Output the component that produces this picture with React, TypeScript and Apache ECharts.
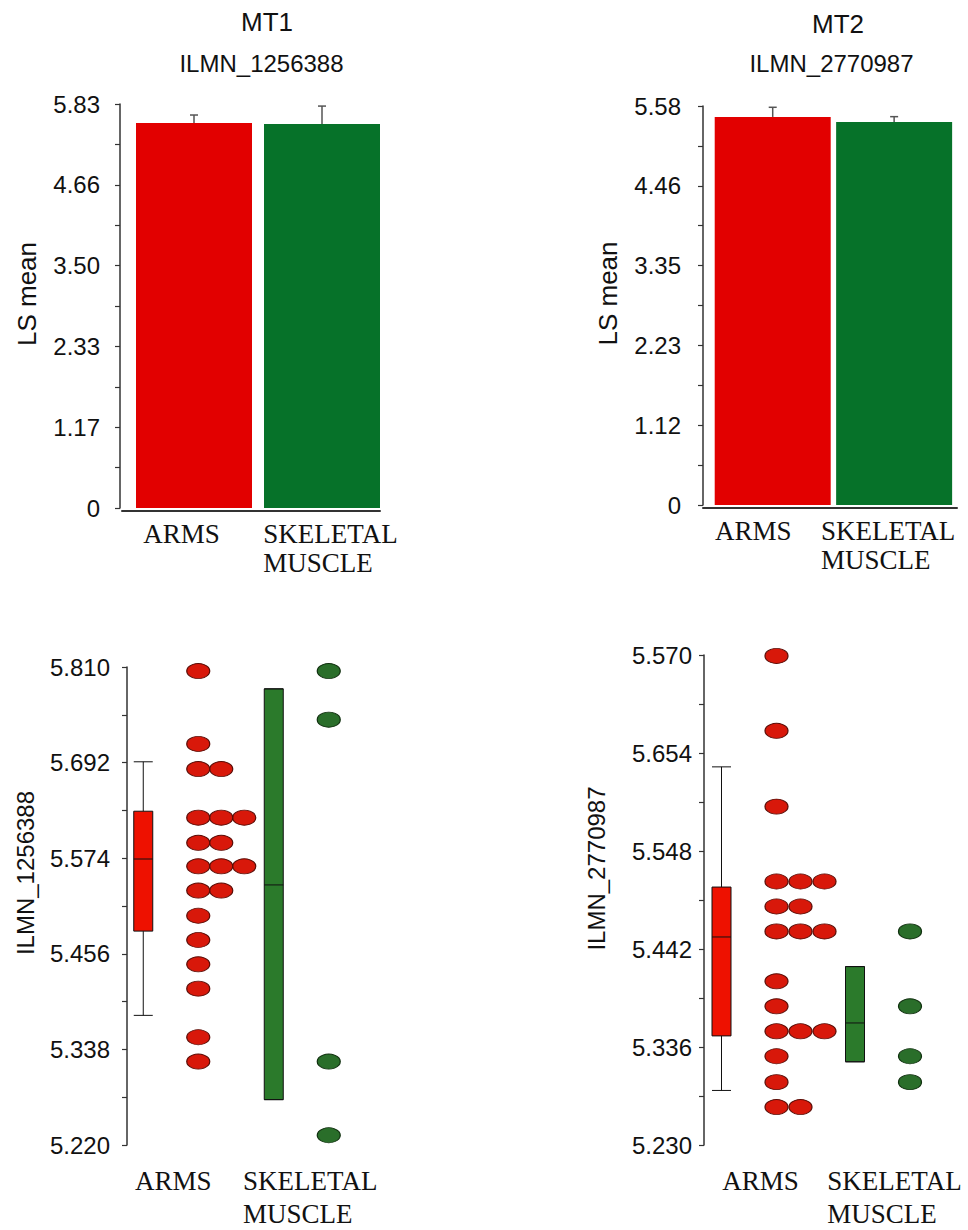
import React, { useEffect, useRef } from 'react';
import * as echarts from 'echarts';

// ---------- data ----------
const categories = ['ARMS', 'SKELETAL\nMUSCLE'];

// Top panels: LS means and upper error bars
const mt1Means = [5.556, 5.541];
const mt1Errors = [0.115, 0.259];
const mt2Means = [5.427, 5.357];
const mt2Errors = [0.135, 0.074];

const mt1BarTicks = ['0', '1.17', '2.33', '3.50', '4.66', '5.83'];
const mt2BarTicks = ['0', '1.12', '2.23', '3.35', '4.46', '5.58'];
const mt1BarRange = [0, 5.83];
const mt2BarRange = [0, 5.58];

// Bottom panels: box plots [low, Q1, median, Q3, high]
const mt1Boxes = [
  [5.38, 5.484, 5.573, 5.632, 5.693],
  [5.276, 5.276, 5.541, 5.783, 5.783],
];
const mt2Boxes = [
  [5.289, 5.348, 5.455, 5.509, 5.639],
  [5.32, 5.32, 5.362, 5.423, 5.423],
];

// Individual samples (dot plots)
const mt1ArmsSamples = [
  5.805, 5.715, 5.684, 5.684, 5.624, 5.624, 5.624, 5.593, 5.593, 5.564,
  5.564, 5.564, 5.534, 5.534, 5.503, 5.473, 5.443, 5.413, 5.353, 5.323,
];
const mt1MuscleSamples = [5.805, 5.745, 5.323, 5.232];
const mt2ArmsSamples = [
  5.759, 5.678, 5.596, 5.515, 5.515, 5.515, 5.488, 5.488, 5.461, 5.461,
  5.461, 5.407, 5.38, 5.353, 5.353, 5.353, 5.326, 5.298, 5.271, 5.271,
];
const mt2MuscleSamples = [5.461, 5.38, 5.326, 5.298];

const mt1DotTicks = ['5.220', '5.338', '5.456', '5.574', '5.692', '5.810'];
const mt2DotTicks = ['5.230', '5.336', '5.442', '5.548', '5.654', '5.570'];
const mt1DotRange = [5.22, 5.81];
const mt2DotRange = [5.23, 5.76];

// ---------- styles ----------
const SANS = '"Liberation Sans", Arial, Helvetica, sans-serif';
const SERIF = '"Liberation Serif", "Times New Roman", Times, serif';
const INK = '#111111';
const AXIS = '#333333';
const barColors = ['#e20000', '#067229'];
const boxColors = ['#ee1100', '#2b7a2b'];
const dotColors = ['#d8180a', '#2a6e2a'];
const dotBorders = ['#5a0c06', '#10300f'];

function tickValues(range: number[], steps: number, sub: number) {
  const out: number[] = [];
  const n = steps * sub;
  for (let i = 0; i <= n; i++) {
    out.push(+(range[0] + ((range[1] - range[0]) * i) / n).toFixed(6));
  }
  return out;
}

function valueAxis(
  grid: number,
  range: number[],
  labels: string[],
  offset: number,
  margin: number,
  name: string,
  nameSize: number,
  nameGap: number,
  nameShift: number
) {
  const step = (range[1] - range[0]) / (labels.length - 1);
  return {
    type: 'value',
    gridIndex: grid,
    min: range[0],
    max: range[1],
    offset,
    axisLine: { show: true, onZero: false, lineStyle: { color: AXIS, width: 1.5 } },
    axisTick: {
      show: true,
      length: 5,
      lineStyle: { color: AXIS, width: 1.2 },
      customValues: tickValues(range, labels.length - 1, 2),
    },
    minorTick: { show: false },
    splitLine: { show: false },
    axisLabel: {
      customValues: tickValues(range, labels.length - 1, 1),
      margin,
      fontSize: 24,
      color: INK,
      fontFamily: SANS,
      formatter: (v: number) => labels[Math.round((v - range[0]) / step)] ?? '',
    },
    name,
    nameLocation: 'middle',
    nameGap,
    nameRotate: 90,
    nameTextStyle: {
      fontSize: nameSize,
      color: INK,
      fontFamily: SANS,
      padding: nameShift >= 0 ? [0, 0, 0, nameShift * 2] : [0, -nameShift * 2, 0, 0],
    },
  };
}

function categoryAxis(grid: number, shifts: number[], margin: number, lineHeight: number) {
  const rich: Record<string, any> = {};
  shifts.forEach((dx, i) => {
    rich['c' + i] = {
      align: 'left',
      fontFamily: SERIF,
      fontSize: 27,
      color: INK,
      lineHeight,
      padding: dx >= 0 ? [0, 0, 0, 2 * dx] : [0, -2 * dx, 0, 0],
    };
  });
  return {
    type: 'category',
    gridIndex: grid,
    data: categories,
    axisLine: { show: false },
    axisTick: { show: false },
    splitLine: { show: false },
    axisLabel: {
      interval: 0,
      margin,
      fontFamily: SERIF,
      fontSize: 27,
      color: INK,
      lineHeight,
      formatter: (v: string, i: number) =>
        v
          .split('\n')
          .map((l) => `{c${i}|${l}}`)
          .join('\n'),
      rich,
    },
  };
}

function baselineAxis(grid: number) {
  return {
    type: 'value',
    gridIndex: grid,
    min: 0,
    max: 1,
    axisLine: { show: true, onZero: false, lineStyle: { color: AXIS, width: 2 } },
    axisTick: { show: false },
    axisLabel: { show: false },
    splitLine: { show: false },
  };
}

function hiddenAxis(grid: number) {
  return { type: 'value', gridIndex: grid, show: false, min: 0, max: 1 };
}

function barSeries(axis: number, means: number[]) {
  return {
    type: 'bar',
    xAxisIndex: axis,
    yAxisIndex: axis,
    barWidth: 116,
    z: 2,
    data: means.map((v, i) => ({ value: v, itemStyle: { color: barColors[i] } })),
  };
}

function errorSeries(axis: number, means: number[], errs: number[]) {
  return {
    type: 'custom',
    xAxisIndex: axis,
    yAxisIndex: axis,
    z: 3,
    encode: { x: 0, y: [1, 2] },
    data: means.map((m, i) => [i, m, m + errs[i]]),
    renderItem: (_p: any, api: any) => {
      const base = api.coord([api.value(0), api.value(1)]);
      const top = api.coord([api.value(0), api.value(2)]);
      const half = 4;
      const style = { stroke: '#555555', lineWidth: 1.5 };
      return {
        type: 'group',
        children: [
          { type: 'line', shape: { x1: base[0], y1: base[1], x2: top[0], y2: top[1] }, style },
          { type: 'line', shape: { x1: top[0] - half, y1: top[1], x2: top[0] + half, y2: top[1] }, style },
        ],
      };
    },
  };
}

function boxSeries(axis: number, boxes: number[][]) {
  return {
    type: 'boxplot',
    xAxisIndex: axis,
    yAxisIndex: axis,
    boxWidth: [19, 19],
    z: 2,
    data: boxes.map((b, i) => ({
      value: b,
      itemStyle: { color: boxColors[i], borderColor: '#111111', borderWidth: 1 },
    })),
  };
}

function dotSeries(axis: number, cat: number, samples: number[], spacing: number) {
  const seen = new Map<number, number>();
  return {
    type: 'scatter',
    xAxisIndex: axis,
    yAxisIndex: axis,
    symbol: 'circle',
    symbolSize: [23, 15],
    clip: false,
    z: 3,
    itemStyle: { color: dotColors[cat], borderColor: dotBorders[cat], borderWidth: 1, opacity: 1 },
    data: samples.map((v) => {
      const col = seen.get(v) ?? 0;
      seen.set(v, col + 1);
      return { value: [cat, v], symbolOffset: [55 + col * spacing, 0] };
    }),
  };
}

function titleItem(text: string, left: number, top: number, size: number) {
  return {
    text,
    left,
    top,
    padding: 0,
    textAlign: 'center',
    textStyle: { fontSize: size, fontWeight: 'normal', fontFamily: SANS, color: INK },
  };
}

export default function App() {
  const ref = useRef<HTMLDivElement>(null);

  useEffect(() => {
    if (!ref.current) return;
    const chart = echarts.init(ref.current, null, { renderer: 'svg' });
    const option: any = {
      animation: false,
      backgroundColor: '#ffffff',
      title: [
        titleItem('MT1', 267, 9, 26),
        titleItem('ILMN_1256388', 261.5, 51, 24),
        titleItem('MT2', 838, 11, 26),
        titleItem('ILMN_2770987', 831.5, 51, 24),
      ],
      grid: [
        { left: 130, top: 104, width: 256, height: 404 },
        { left: 122, top: 104, width: 258, height: 407 },
        { left: 712, top: 106, width: 252, height: 399 },
        { left: 703, top: 106, width: 254, height: 402 },
        { left: 78, top: 667, width: 261, height: 483 },
        { left: 654.75, top: 655, width: 267, height: 495 },
      ],
      xAxis: [
        categoryAxis(0, [-12.5, 8.5], 11, 29),
        baselineAxis(1),
        categoryAxis(2, [-19.5, -6], 11, 29),
        baselineAxis(3),
        categoryAxis(4, [30, 36.5], 19, 33),
        categoryAxis(5, [39, 39.5], 19, 33),
      ],
      yAxis: [
        valueAxis(0, mt1BarRange, mt1BarTicks, 10, 20, 'LS mean', 26, 80, 12),
        hiddenAxis(1),
        valueAxis(2, mt2BarRange, mt2BarTicks, 9, 22, 'LS mean', 26, 82, 12),
        hiddenAxis(3),
        valueAxis(4, mt1DotRange, mt1DotTicks, -49, 17, 'ILMN_1256388', 24, 90, 33),
        valueAxis(5, mt2DotRange, mt2DotTicks, -49.25, 12, 'ILMN_2770987', 24, 96, 31.5),
      ],
      series: [
        barSeries(0, mt1Means),
        errorSeries(0, mt1Means, mt1Errors),
        barSeries(2, mt2Means),
        errorSeries(2, mt2Means, mt2Errors),
        boxSeries(4, mt1Boxes),
        dotSeries(4, 0, mt1ArmsSamples, 23),
        dotSeries(4, 1, mt1MuscleSamples, 23),
        boxSeries(5, mt2Boxes),
        dotSeries(5, 0, mt2ArmsSamples, 24),
        dotSeries(5, 1, mt2MuscleSamples, 24),
      ],
    };
    chart.setOption(option);
    return () => chart.dispose();
  }, []);

  return (
    <div
      ref={ref}
      style={{ position: 'absolute', left: 0, top: 0, width: 968, height: 1230, background: '#ffffff' }}
    />
  );
}
